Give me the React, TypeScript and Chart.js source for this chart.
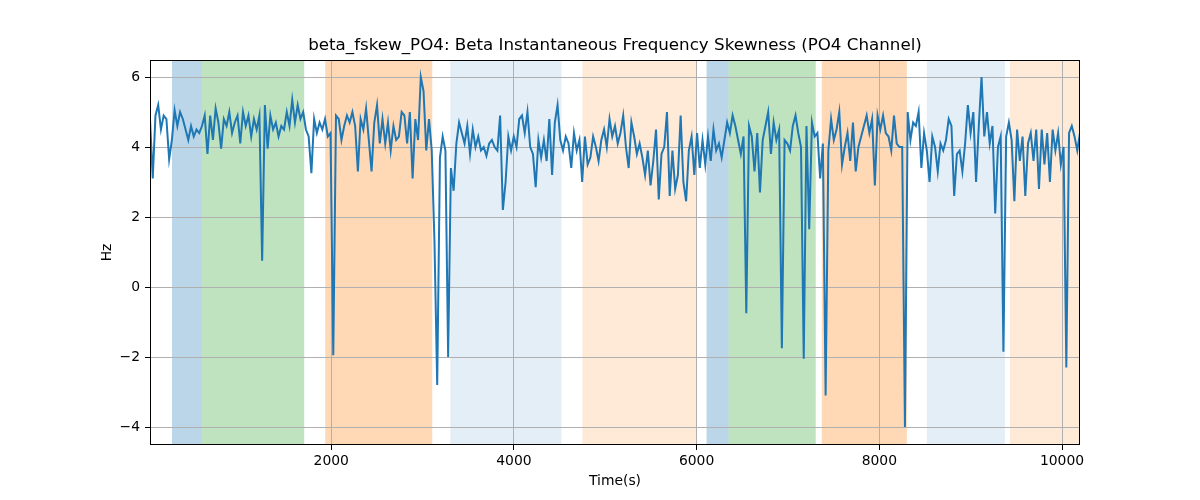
import React, { useEffect, useRef } from "react";
import { Chart, registerables } from "chart.js";

Chart.register(...registerables);

const TITLE = "beta_fskew_PO4: Beta Instantaneous Frequency Skewness (PO4 Channel)";
const X_LABEL = "Time(s)";
const Y_LABEL = "Hz";

const T_START = 16;
const T_END = 10197;

const VALUES: number[] = [
  4.8, 3.1, 4.9, 5.2, 4.5, 4.9, 4.8, 3.65, 4.2, 5.05,
  4.6, 5.0, 4.8, 4.5, 4.2, 4.6, 4.3, 4.5, 4.4, 4.6,
  4.9, 3.8, 4.9, 4.2, 5.1, 4.7, 3.95, 4.8, 4.6, 5.0,
  4.4, 4.7, 4.9, 4.1, 5.0, 4.6, 4.9, 4.3, 4.8, 4.5,
  4.9, 0.75, 5.2, 3.95, 4.9, 4.5, 4.7, 4.3, 4.6, 4.5,
  5.0, 4.6, 5.35, 4.7, 5.2, 4.8, 5.0, 4.5, 4.3, 3.25,
  4.8, 4.4, 4.7, 4.5, 4.8, 4.3, 4.4, -1.95, 4.9, 4.8,
  4.2, 4.6, 4.9, 4.7, 5.0, 4.6, 3.3, 4.8, 4.5, 5.1,
  4.2, 3.3, 4.7, 5.2, 4.1, 4.8, 4.1, 4.7, 3.9, 4.6,
  4.2, 4.3, 5.0, 4.9, 4.1, 5.0, 3.1, 4.8, 4.2, 6.0,
  5.6, 3.9, 4.8, 3.9, 1.3, -2.8, 3.7, 4.3, 3.9, -2.0,
  3.4, 2.75, 4.1, 4.7, 4.4, 4.1, 4.6, 3.8, 4.5, 4.0,
  4.3, 3.9, 4.0, 3.75, 4.1, 4.2, 4.0, 3.9, 4.9, 2.2,
  3.0, 4.3, 3.9, 4.3, 4.0, 4.8, 4.9, 4.4, 5.0, 4.0,
  3.8, 2.85, 4.2, 3.7, 4.2, 3.6, 4.8, 3.2, 4.7, 5.2,
  4.2, 3.9, 4.3, 4.1, 3.4, 4.4, 3.9, 4.2, 3.0, 4.3,
  3.5, 3.7, 4.3, 4.0, 3.6, 4.2, 4.5, 4.0, 4.8, 4.3,
  4.6, 4.1, 4.4, 4.9, 4.0, 3.4, 4.7, 4.3, 3.8, 4.1,
  3.7, 3.2, 3.9, 2.9, 3.6, 4.5, 2.5, 3.8, 4.0, 5.0,
  2.6, 3.9, 2.8, 3.2, 4.9, 3.0, 2.45, 3.9, 4.3, 3.2,
  4.4, 3.4, 4.2, 3.5, 4.3, 3.6, 4.5, 3.9, 4.1, 3.7,
  4.2, 4.7, 4.4, 4.9, 4.6, 4.2, 3.8, 4.3, -0.75, 4.6,
  4.3, 3.3, 4.4, 2.7, 4.2, 4.6, 5.0, 3.8, 4.7, 4.2,
  4.5, -1.75, 4.2, 4.1, 3.9, 4.6, 4.9, 4.4, 4.0, -2.05,
  4.6, 1.65, 4.7, 4.3, 4.4, 3.1, 4.1, -3.1, 3.9, 4.8,
  4.2, 4.5, 5.0, 3.5, 4.0, 4.4, 3.6, 4.7, 3.3, 4.0,
  4.3, 4.6, 4.9, 4.4, 4.8, 2.9, 4.9, 4.5, 4.9, 4.4,
  4.3, 3.9, 4.9, 4.1, 4.0, 4.0, -4.0, 5.0, 4.2, 4.7,
  4.6, 5.0, 3.4, 4.4, 3.9, 3.0, 4.3, 4.0, 3.3, 4.1,
  3.9, 4.2, 4.8, 4.6, 2.6, 3.8, 3.9, 3.3, 4.1, 5.2,
  4.4, 5.0, 3.0, 4.6, 6.0, 4.3, 5.0, 4.1, 4.6, 2.1,
  4.0, 4.3, -1.85, 4.3, 4.7, 4.2, 2.45, 4.5, 3.6, 4.3,
  2.6, 4.1, 4.4, 3.6, 4.5, 2.8, 4.5, 3.5, 4.4, 3.0,
  4.5, 3.9, 4.4, 3.5, 4.0, -2.3, 4.4, 4.6, 4.3, 3.9,
  4.4,
];

const SPAN_STARTS = [257, 586, 1934, 3304, 4750, 6109, 6350, 7370, 8520, 9430];
const SPAN_ENDS = [586, 1704, 3106, 4520, 5999, 6350, 7304, 8301, 9375, 10197];
const SPAN_COLORS = [
  "rgba(31,119,180,0.3)",
  "rgba(44,160,44,0.3)",
  "rgba(255,127,14,0.3)",
  "rgba(31,119,180,0.12)",
  "rgba(255,127,14,0.16)",
  "rgba(31,119,180,0.3)",
  "rgba(44,160,44,0.3)",
  "rgba(255,127,14,0.3)",
  "rgba(31,119,180,0.12)",
  "rgba(255,127,14,0.16)",
];

const X_TICKS = [2000, 4000, 6000, 8000, 10000];
const Y_TICKS = [-4, -2, 0, 2, 4, 6];
const Y_MIN = -4.514;
const Y_MAX = 6.486;

const FONT = '"DejaVu Sans", sans-serif';

const fmt = (v: number) => (v < 0 ? "\u2212" + String(Math.abs(v)) : String(v));

export default function App() {
  const ref = useRef<HTMLCanvasElement | null>(null);

  useEffect(() => {
    document.body.style.margin = "0";
    const canvas = ref.current;
    if (!canvas) return;
    const step = (T_END - T_START) / (VALUES.length - 1);
    const points = VALUES.map((v, i) => ({ x: T_START + i * step, y: v }));

    const decor = {
      id: "decor",
      beforeDraw(chart: any) {
        const { ctx, chartArea } = chart;
        const xs = chart.scales.x;
        ctx.save();
        ctx.beginPath();
        ctx.rect(chartArea.left, chartArea.top, chartArea.right - chartArea.left, chartArea.bottom - chartArea.top);
        ctx.clip();
        for (let i = 0; i < SPAN_STARTS.length; i++) {
          const x0 = xs.getPixelForValue(SPAN_STARTS[i]);
          const x1 = xs.getPixelForValue(SPAN_ENDS[i]);
          ctx.fillStyle = SPAN_COLORS[i];
          ctx.fillRect(x0, chartArea.top, x1 - x0, chartArea.bottom - chartArea.top);
        }
        ctx.restore();
      },
      afterDraw(chart: any) {
        const { ctx, chartArea } = chart;
        ctx.save();
        ctx.strokeStyle = "#000";
        ctx.lineWidth = 1;
        ctx.strokeRect(
          Math.round(chartArea.left) + 0.5,
          Math.round(chartArea.top) + 0.5,
          Math.round(chartArea.right - chartArea.left) - 1,
          Math.round(chartArea.bottom - chartArea.top) - 1
        );
        ctx.fillStyle = "#000";
        ctx.textAlign = "center";
        ctx.textBaseline = "middle";
        ctx.font = `16.7px ${FONT}`;
        ctx.fillText(TITLE, (chartArea.left + chartArea.right) / 2, 46);
        ctx.font = `13.9px ${FONT}`;
        ctx.fillText(X_LABEL, (chartArea.left + chartArea.right) / 2, 481);
        ctx.translate(107, (chartArea.top + chartArea.bottom) / 2);
        ctx.rotate(-Math.PI / 2);
        ctx.fillText(Y_LABEL, 0, 0);
        ctx.restore();
      },
    };

    const chart = new Chart(canvas, {
      type: "line",
      data: {
        datasets: [
          {
            data: points,
            borderColor: "#1f77b4",
            borderWidth: 2,
            pointRadius: 0,
            tension: 0,
            fill: false,
          },
        ],
      },
      options: {
        animation: false,
        responsive: false,
        devicePixelRatio: 1,
        layout: { padding: { left: 0, right: 120, top: 60, bottom: 0 } },
        plugins: {
          legend: { display: false },
          title: { display: false },
          tooltip: { enabled: false },
        },
        scales: {
          x: {
            type: "linear",
            min: T_START,
            max: T_END,
            afterFit(scale: any) {
              scale.height = 55;
            },
            afterBuildTicks(scale: any) {
              scale.ticks = X_TICKS.map((v) => ({ value: v }));
            },
            grid: {
              color: "#b0b0b0",
              lineWidth: 1,
              tickColor: "#000",
              tickLength: 5,
              drawTicks: true,
            },
            border: { display: false },
            ticks: {
              color: "#000",
              font: { family: FONT, size: 13.9 },
              padding: 3,
              maxRotation: 0,
              autoSkip: false,
              callback: (v: any) => fmt(Number(v)),
            },
          },
          y: {
            type: "linear",
            min: Y_MIN,
            max: Y_MAX,
            afterFit(scale: any) {
              scale.width = 150;
            },
            afterBuildTicks(scale: any) {
              scale.ticks = Y_TICKS.map((v) => ({ value: v }));
            },
            grid: {
              color: "#b0b0b0",
              lineWidth: 1,
              tickColor: "#000",
              tickLength: 5,
            },
            border: { display: false },
            ticks: {
              color: "#000",
              font: { family: FONT, size: 13.9 },
              padding: 5,
              autoSkip: false,
              callback: (v: any) => fmt(Number(v)),
            },
          },
        },
      },
      plugins: [decor],
    });
    return () => chart.destroy();
  }, []);

  return (
    <div style={{ width: 1200, height: 500, background: "#fff" }}>
      <canvas ref={ref} width={1200} height={500} />
    </div>
  );
}
